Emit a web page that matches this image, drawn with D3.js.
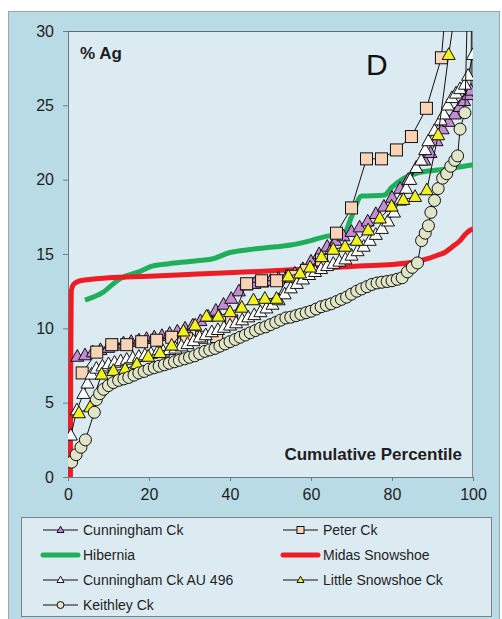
<!DOCTYPE html>
<html><head><meta charset="utf-8">
<script src="https://cdn.jsdelivr.net/npm/d3@7"></script>
<style>
html,body{margin:0;padding:0;background:#ffffff;}
svg{display:block;font-family:"Liberation Sans",Arial,sans-serif;}
</style></head>
<body>
<svg id="chart" width="502" height="619"></svg>
<script>
// ---- data: [cumulative percentile, % Ag] ----
const cunninghamCk = [[2.3,8.1],[4.2,8.2],[6.1,8.4],[8.0,8.55],[9.9,8.7],[11.8,8.85],[13.7,9.0],[15.6,9.1],[17.5,9.2],[19.4,9.3],[21.3,9.4],[23.2,9.5],[25.1,9.65],[27.0,9.8],[28.9,10.0],[30.8,10.2],[32.7,10.5],[34.6,10.8],[36.5,11.2],[38.4,11.6],[40.3,12.0],[42.2,12.5],[44.1,12.9],[46,13.0],[48,13.1],[50,13.2],[52,13.35],[54,13.5],[56,13.7],[58,14.0],[60,14.5],[62,15.0],[64,15.5],[66,15.9],[68,16.2],[70,16.5],[72,16.8],[74,17.2],[76,17.7],[78,18.2],[80,18.8],[82,19.4],[84,20.0],[86,20.8],[88,21.3],[89.5,21.8],[91,22.6],[92.5,23.4],[94,23.9],[95.5,24.4],[96.7,24.9],[97.8,25.3],[98.8,25.7],[99.5,26.0],[99.8,38]];
const peterCk = [[3.5,7.0],[7.1,8.4],[10.8,8.9],[14.5,8.9],[18.2,9.1],[21.9,9.2],[25.6,9.4],[29.3,9.3],[33.0,9.4],[36.7,9.45],[40.4,10.5],[44.1,13.0],[47.8,13.2],[51.5,13.2],[55.2,13.5],[58.9,13.9],[62.6,14.6],[66.3,16.4],[70.0,18.1],[73.7,21.4],[77.4,21.4],[81.1,22.0],[84.8,22.9],[88.5,24.8],[92.2,28.2],[95.9,40]];
const hibernia = [[4.2,11.9],[8.5,12.4],[12.6,13.3],[17.5,13.8],[21,14.2],[25,14.35],[30,14.5],[36,14.7],[40,15.1],[45,15.3],[50,15.45],[55,15.6],[60,15.9],[64,16.2],[68,16.3],[70,17.5],[72.5,18.9],[78,18.95],[80,19.5],[83,20.1],[87,20.5],[93,20.7],[100,21.0]];
const midasSnowshoe = [[0.6,0],[0.6,3],[0.7,8],[0.8,12.5],[1.5,13.0],[3,13.2],[10,13.4],[20,13.5],[32,13.65],[45,13.8],[60,14.0],[72,14.2],[80,14.3],[86,14.5],[89,14.7],[91,14.9],[93,15.1],[95,15.5],[96.8,15.9],[98,16.3],[99.3,16.6],[100,16.7]];
const cunninghamAu496 = [[0.7,2.8],[2.2,4.5],[3.8,5.6],[4.8,6.3],[5.8,6.9],[7.0,7.3],[8.5,7.45],[10,7.6],[11.5,7.7],[13,7.8],[14.5,7.9],[16,8.0],[17.5,8.1],[19,8.2],[20.5,8.3],[22,8.35],[23.5,8.45],[25,8.55],[26.5,8.65],[28,8.8],[29.5,8.95],[31,9.15],[32.5,9.4],[34,9.55],[35.5,9.75],[37,9.9],[38.5,10.05],[40,10.2],[41.5,10.35],[43,10.55],[44.5,10.75],[46,10.9],[47.5,11.1],[49,11.35],[50.5,11.6],[52,11.9],[53.5,12.3],[55,12.7],[56.5,13.0],[58,13.3],[59.5,13.6],[61,13.8],[62.5,14.0],[64,14.2],[65.5,14.35],[67,14.5],[68.5,14.65],[70,14.9],[71.5,15.2],[73,15.5],[74.5,15.9],[76,16.3],[77.5,16.7],[79,17.2],[80.5,17.8],[82,18.6],[83.5,19.4],[84.5,20.0],[86,20.8],[87.2,21.3],[88.2,22.0],[89,22.6],[90.5,23.3],[92,24.0],[92.8,24.4],[93.8,25.0],[94.8,25.5],[95.8,25.8],[96.8,26.1],[98,26.4],[98.8,27.0],[100,28.4]];
const littleSnowshoeCk = [[2.7,4.3],[5.5,4.7],[8.3,6.9],[11.2,7.15],[14.1,7.25],[17,7.6],[19.8,8.1],[22.7,8.35],[25.6,8.85],[28.5,9.8],[31.4,10.2],[34.2,10.8],[37.1,10.8],[40,11.1],[42.9,11.4],[45.8,11.9],[48.6,12.0],[51.5,12.0],[54.4,13.5],[57.3,13.7],[59.8,14.1],[62.6,14.8],[65.5,15.3],[68.4,15.5],[71.3,15.9],[74.1,16.6],[77,17.4],[79.9,18.2],[82.8,18.65],[85.7,18.85],[88.6,19.3],[91.4,23.0],[94,28.4],[96.5,33]];
const keithleyCk = [[0.9,1.0],[2.0,1.5],[3.2,2.0],[4.3,2.5],[6.5,4.35],[7.0,5.2],[7.8,5.6],[8.8,5.9],[10,6.15],[11.2,6.35],[12.5,6.5],[13.8,6.6],[15,6.7],[16.3,6.85],[17.5,7.0],[18.8,7.1],[20,7.25],[21.3,7.35],[22.5,7.45],[23.8,7.55],[25,7.65],[26.3,7.75],[27.5,7.85],[28.8,7.95],[30,8.05],[31.3,8.15],[32.5,8.3],[33.8,8.45],[35,8.55],[36.3,8.65],[37.5,8.8],[38.8,8.95],[40,9.1],[41.3,9.25],[42.5,9.4],[43.8,9.55],[45,9.7],[46.3,9.85],[47.5,10.0],[48.8,10.1],[50,10.25],[51.3,10.4],[52.5,10.55],[53.8,10.7],[55,10.75],[56.3,10.85],[57.5,10.95],[58.8,11.05],[60,11.15],[61.3,11.3],[62.5,11.45],[63.8,11.55],[65,11.65],[66.3,11.8],[67.5,11.95],[68.8,12.1],[70,12.3],[71.3,12.5],[72.5,12.65],[73.8,12.8],[75,12.95],[76.3,13.05],[77.5,13.1],[78.8,13.15],[80,13.2],[81.3,13.3],[82.5,13.4],[83.8,13.8],[85,14.1],[86.3,14.4],[87.3,15.9],[88.2,16.4],[89,16.9],[89.6,17.8],[90.5,18.6],[91.4,19.4],[92.5,20.1],[93.5,20.4],[94.5,20.9],[95.5,21.3],[96.2,21.6],[96.8,23.4],[98,24.5],[99,36]];

const xTicks = [0,20,40,60,80,100];
const yTicks = [0,5,10,15,20,25,30];
const seriesNames = ["Cunningham Ck","Peter Ck","Hibernia","Midas Snowshoe","Cunningham Ck AU 496","Little Snowshoe Ck","Keithley Ck"];

// ---- series styling ----
const series = [
  {name:seriesNames[2], data:hibernia, kind:"line", color:"#1fae5a"},
  {name:seriesNames[3], data:midasSnowshoe, kind:"line", color:"#ee1c25"},
  {name:seriesNames[0], data:cunninghamCk, kind:"marker", shape:"tri", fill:"#c68ad6"},
  {name:seriesNames[1], data:peterCk, kind:"marker", shape:"sq", fill:"#f8d3b6"},
  {name:seriesNames[4], data:cunninghamAu496, kind:"marker", shape:"tri", fill:"#ffffff"},
  {name:seriesNames[5], data:littleSnowshoeCk, kind:"marker", shape:"tri", fill:"#f2f21e"},
  {name:seriesNames[6], data:keithleyCk, kind:"marker", shape:"circ", fill:"#dfe5c6"}
];

const svg = d3.select("#chart");
const x = d3.scaleLinear().domain([0,100]).range([68,473]);
const y = d3.scaleLinear().domain([0,30]).range([477,31]);

// outer background
svg.append("rect").attr("x",8.5).attr("y",11.5).attr("width",491).attr("height",620)
  .attr("fill","#b8dbe6").attr("stroke","#9aa6aa").attr("stroke-width",1);
// plot area
svg.append("rect").attr("x",x(0)).attr("y",y(30)).attr("width",x(100)-x(0)).attr("height",y(0)-y(30))
  .attr("fill","#dcebf2");

svg.append("clipPath").attr("id","plotclip").append("rect")
  .attr("x",x(0)).attr("y",y(30)).attr("width",x(100)-x(0)).attr("height",y(0)-y(30));

// axes
const yAxis = d3.axisLeft(y).tickValues(yTicks).tickSize(5).tickPadding(9);
const xAxis = d3.axisBottom(x).tickValues(xTicks).tickSize(4).tickPadding(8);
const gy = svg.append("g").attr("transform",`translate(${x(0)},0)`).call(yAxis);
const gx = svg.append("g").attr("transform",`translate(0,${y(0)})`).call(xAxis);
[gx,gy].forEach(g=>{
  g.selectAll("path").attr("stroke","#6f7d83");
  g.selectAll("line").attr("stroke","#6f7d83");
  g.selectAll("text").attr("font-size",16).attr("fill","#1e1e1e").attr("font-family","'Liberation Sans',Arial,sans-serif");
});
// top and right border
svg.append("line").attr("x1",x(0)).attr("x2",x(100)).attr("y1",y(30)+0.5).attr("y2",y(30)+0.5).attr("stroke","#5f6d73");
svg.append("line").attr("x1",x(100)-0.5).attr("x2",x(100)-0.5).attr("y1",y(30)).attr("y2",y(0)).attr("stroke","#7f8c91");

const plot = svg.append("g").attr("clip-path","url(#plotclip)");
const lineGen = d3.line().x(d=>x(d[0])).y(d=>y(d[1]));

function drawMarker(g, shape, fill, cx, cy, s){
  if(shape==="tri"){
    const h = s*0.9;
    g.append("path").attr("d",`M${cx},${cy-h*0.6}L${cx+s/2},${cy+h*0.4}L${cx-s/2},${cy+h*0.4}Z`)
      .attr("fill",fill).attr("stroke","#111").attr("stroke-width",1);
  } else if(shape==="sq"){
    g.append("rect").attr("x",cx-s/2).attr("y",cy-s/2).attr("width",s).attr("height",s)
      .attr("fill",fill).attr("stroke","#111").attr("stroke-width",1);
  } else {
    g.append("circle").attr("cx",cx).attr("cy",cy).attr("r",s/2)
      .attr("fill",fill).attr("stroke","#111").attr("stroke-width",1);
  }
}

series.forEach(s=>{
  if(s.kind==="line"){
    plot.append("path").datum(s.data).attr("d",lineGen.curve(d3.curveMonotoneX))
      .attr("fill","none").attr("stroke",s.color).attr("stroke-width",5).attr("stroke-linejoin","round");
    lineGen.curve(d3.curveLinear);
  } else {
    plot.append("path").datum(s.data).attr("d",lineGen)
      .attr("fill","none").attr("stroke","#111").attr("stroke-width",1);
    const mg = plot.append("g");
    const size = s.shape==="tri"?13:12;
    s.data.forEach(d=>{ if(d[1]<=30.5) drawMarker(mg, s.shape, s.fill, x(d[0]), y(d[1]), size); });
  }
});

// annotations
svg.append("text").attr("x",80).attr("y",59).attr("font-size",17).attr("font-weight","bold").attr("fill","#1e1e1e").text("% Ag");
svg.append("text").attr("x",366).attr("y",75).attr("font-size",30).attr("fill","#111").text("D");
svg.append("text").attr("x",462).attr("y",460).attr("text-anchor","end").attr("font-size",17).attr("font-weight","bold").attr("fill","#1e1e1e").text("Cumulative Percentile");

// legend
const lg = svg.append("g");
lg.append("rect").attr("x",21.5).attr("y",517.5).attr("width",470).attr("height",99)
  .attr("fill","#dcebf2").attr("stroke","#808080").attr("stroke-width",1);
const legendOrder = [
  [seriesNames[0],0,0],[seriesNames[1],1,0],
  [seriesNames[2],0,1],[seriesNames[3],1,1],
  [seriesNames[4],0,2],[seriesNames[5],1,2],
  [seriesNames[6],0,3]
];
legendOrder.forEach(([nm,col,row])=>{
  const s = series.find(q=>q.name===nm);
  const x0 = col===0?43:283, cy = 530+row*25;
  if(s.kind==="line"){
    lg.append("line").attr("x1",x0).attr("x2",x0+35).attr("y1",cy).attr("y2",cy)
      .attr("stroke",s.color).attr("stroke-width",5).attr("stroke-linecap","round");
  } else {
    lg.append("line").attr("x1",x0).attr("x2",x0+35).attr("y1",cy).attr("y2",cy).attr("stroke","#111").attr("stroke-width",1);
    drawMarker(lg, s.shape, s.fill, x0+17.5, cy, 7);
  }
  lg.append("text").attr("x",x0+40).attr("y",cy+5).attr("font-size",14).attr("fill","#1e1e1e").text(nm);
});
</script>
</body></html>
